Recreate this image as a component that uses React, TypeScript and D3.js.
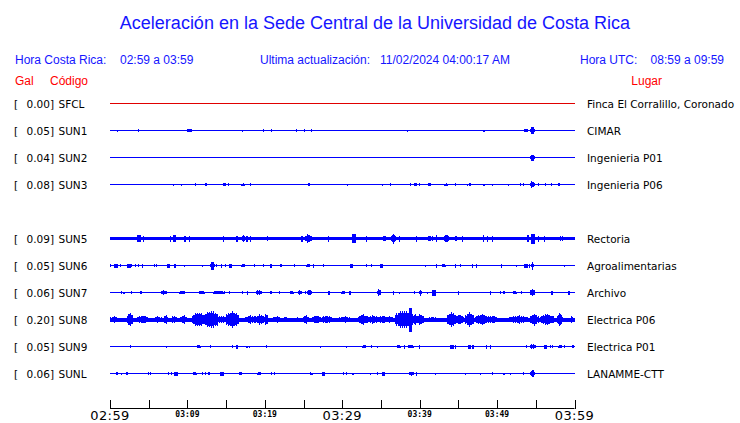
import React from "react";
import * as d3 from "d3";

// ---------- data ----------
const TITLE = "Aceleración en la Sede Central de la Universidad de Costa Rica";
const LOCAL_RANGE = "02:59 a 03:59";
const UPDATED = "11/02/2024 04:00:17 AM";
const UTC_RANGE = "08:59 a 09:59";

// slot: vertical row index (slot 4 is empty)
const codes = ["SFCL", "SUN1", "SUN2", "SUN3", "SUN5", "SUN6", "SUN7", "SUN8", "SUN9", "SUNL"];
const slots = [0, 1, 2, 3, 5, 6, 7, 8, 9, 10];
const gal = [0.0, 0.05, 0.04, 0.08, 0.09, 0.05, 0.06, 0.2, 0.05, 0.06];
const places = [
  "Finca El Corralillo, Coronado",
  "CIMAR",
  "Ingenieria P01",
  "Ingenieria P06",
  "Rectoria",
  "Agroalimentarias",
  "Archivo",
  "Electrica P06",
  "Electrica P01",
  "LANAMME-CTT",
];
// baseline noise half-amplitude per trace
const baseNoise = [0.5, 0.5, 0.5, 0.5, 1.8, 0.5, 0.5, 2.0, 0.5, 0.5];

// events per trace: [startMinute, endMinute, amplitude]
type Ev = [number, number, number];
const evSFCL: Ev[] = [];
const evSUN1: Ev[] = [
  [0.94, 0.94, 1], [3.66, 3.66, 1.5], [10.0, 10.0, 1.5], [10.15, 10.5, 2.5], [17.1, 17.1, 1],
  [19.8, 19.8, 1.5], [20.9, 20.9, 1.5], [24.1, 24.1, 1.5], [25.1, 25.1, 1.5], [26.0, 26.0, 1.5],
  [38.4, 38.4, 1], [48.3, 48.3, 1], [53.6, 53.9, 1.5], [54.4, 54.7, 3.5],
];
const evSUN2: Ev[] = [[54.4, 54.7, 3]];
const evSUN3: Ev[] = [
  [8.2, 8.2, 1], [9.2, 9.2, 1], [11.0, 11.0, 1.5], [12.4, 12.4, 1.5], [14.7, 14.9, 1.5],
  [15.3, 15.3, 1.5], [17.0, 17.4, 1.5], [18.1, 18.1, 1.5], [25.6, 25.8, 1.5], [30.7, 30.7, 1],
  [35.2, 35.2, 1], [36.2, 36.2, 1.5], [38.8, 38.8, 1.5], [39.3, 39.6, 1.5], [40.0, 40.0, 1.5],
  [41.2, 41.4, 1.5], [43.2, 43.6, 1.5], [44.6, 44.6, 1.5], [46.2, 46.2, 1], [46.5, 46.5, 1.5],
  [48.3, 48.3, 1], [49.4, 49.4, 1], [51.5, 51.5, 1], [53.0, 53.0, 1.5], [53.4, 53.4, 1.5],
  [54.3, 54.8, 4], [55.3, 55.3, 1.5], [56.3, 56.3, 1.5], [57.0, 57.0, 1.5], [58.0, 58.0, 1.5],
];
const evSUN5: Ev[] = [
  [3.6, 3.9, 3.5], [4.3, 4.3, 3], [7.8, 7.8, 3], [8.2, 8.5, 3.5], [9.7, 9.7, 3], [10.3, 10.3, 3],
  [14.7, 14.7, 3], [16.4, 16.4, 3], [17.0, 17.5, 3.5], [17.7, 17.7, 3], [18.1, 18.1, 3],
  [20.3, 20.3, 2.2], [24.8, 24.8, 3], [25.1, 26.0, 4.5], [28.2, 28.2, 3], [31.4, 31.7, 4.5],
  [33.1, 33.1, 3], [35.2, 35.7, 3.5], [36.4, 36.9, 5], [37.4, 37.4, 3], [39.6, 39.6, 3],
  [41.0, 41.7, 3.5], [42.2, 42.2, 3.5], [43.2, 43.7, 5], [44.5, 44.9, 3.5], [45.5, 45.5, 3],
  [48.2, 48.2, 3.5], [48.8, 48.8, 3], [49.4, 49.4, 3], [54.0, 54.0, 3.5], [54.5, 54.8, 5],
  [55.4, 55.4, 3], [56.1, 56.1, 3], [57.3, 59.9, 2.3],
];
const evSUN6: Ev[] = [
  [0.05, 0.05, 1.5], [0.6, 0.9, 2], [1.4, 1.4, 1.5], [2.3, 2.6, 2], [2.7, 2.7, 1.5], [3.3, 3.3, 1.5],
  [3.7, 3.7, 1.5], [4.2, 4.2, 2], [5.7, 5.7, 1.5], [6.0, 6.0, 1.5], [7.4, 7.7, 2], [8.4, 8.4, 2],
  [9.6, 9.6, 1], [11.9, 11.9, 1], [13.1, 13.4, 4], [13.8, 13.8, 1.5], [14.4, 14.4, 2],
  [14.9, 14.9, 1.5], [15.4, 15.7, 2], [17.0, 17.4, 2], [18.7, 18.7, 1.5], [19.8, 19.8, 1.5],
  [20.8, 20.8, 2], [22.1, 22.1, 1.5], [23.8, 23.8, 1.5], [25.4, 25.8, 2], [26.3, 26.3, 2],
  [27.6, 27.6, 1.5], [31.1, 31.3, 2], [33.1, 33.1, 1.5], [33.8, 33.8, 1.5], [35.0, 35.2, 2],
  [40.8, 40.8, 1], [42.2, 42.2, 2], [43.0, 43.4, 2], [44.6, 44.6, 2], [45.3, 45.3, 1.5],
  [46.8, 46.8, 2], [47.3, 47.3, 2], [50.6, 50.6, 2], [52.5, 52.5, 1], [53.6, 53.9, 2],
  [54.2, 54.2, 2], [54.6, 54.6, 4], [58.7, 58.7, 1],
];
const evSUN7: Ev[] = [
  [1.5, 1.5, 1.5], [1.8, 1.8, 1], [2.8, 2.8, 1.5], [4.0, 4.0, 1.5], [6.7, 7.4, 3], [9.0, 9.6, 2],
  [11.5, 12.1, 2], [13.4, 14.8, 2], [15.4, 15.4, 1.5], [17.1, 17.1, 1.5], [17.8, 17.8, 2],
  [18.9, 19.6, 3], [20.8, 20.8, 1.5], [21.9, 21.9, 1.5], [23.3, 23.7, 2], [24.3, 24.7, 3],
  [25.3, 25.3, 1.5], [25.5, 26.0, 3], [28.3, 28.3, 2], [29.9, 30.3, 2], [31.0, 31.0, 2],
  [34.6, 35.0, 4], [36.6, 36.6, 2], [37.4, 37.4, 1], [39.3, 39.3, 1.5], [40.1, 40.1, 3],
  [41.0, 41.0, 1], [41.7, 42.0, 3], [45.0, 45.0, 2], [49.1, 49.1, 2], [50.4, 50.4, 1.5],
  [50.9, 50.9, 1.5], [52.1, 52.5, 2], [53.2, 53.2, 1.5], [54.3, 54.8, 4], [57.1, 57.1, 2],
  [59.3, 59.3, 2],
];
const evSUN8: Ev[] = [
  [0.0, 1.0, 3.5], [2.2, 2.8, 8], [3.5, 4.8, 4.5], [5.8, 6.7, 3.5], [7.1, 7.5, 6], [8.0, 8.7, 4.5],
  [9.1, 10.0, 4.5], [10.6, 12.3, 8], [12.3, 13.8, 10], [14.0, 14.9, 4.5], [15.1, 16.6, 9],
  [17.5, 18.8, 4.5], [18.8, 20.0, 5.5], [20.0, 20.4, 7], [20.9, 22.2, 3.5], [22.4, 22.9, 3],
  [23.9, 24.3, 3], [25.0, 25.6, 5], [26.1, 27.2, 4.5], [27.5, 28.7, 4.5], [29.7, 31.0, 3.5],
  [32.1, 33.2, 6], [33.4, 34.5, 4.5], [34.5, 35.8, 4.5], [35.9, 36.6, 4.5], [36.9, 39.1, 10],
  [38.7, 38.9, 12], [39.1, 39.7, 5.5], [39.7, 40.5, 6], [41.1, 42.3, 3], [43.6, 44.6, 8],
  [44.6, 45.6, 5.5], [45.9, 46.9, 8], [47.2, 48.9, 6], [48.9, 50.0, 4.5], [51.5, 53.9, 4.5],
  [54.3, 55.3, 6], [55.6, 57.3, 6], [57.8, 58.4, 7], [59.5, 59.9, 3.5],
];
const evSUN9: Ev[] = [
  [2.6, 2.6, 1.5], [7.3, 7.3, 1], [11.3, 11.7, 2], [13.0, 13.0, 1.5], [15.8, 15.8, 1.5],
  [16.3, 16.5, 2], [17.7, 17.7, 1], [18.0, 18.0, 1], [20.2, 20.2, 1.5], [27.2, 27.2, 1],
  [30.6, 30.6, 1], [32.6, 33.0, 2], [33.8, 33.8, 1.5], [34.6, 34.6, 1], [37.2, 37.6, 2],
  [38.0, 38.0, 2], [38.5, 39.1, 2], [40.0, 40.0, 2], [44.0, 44.3, 2], [44.6, 44.6, 2],
  [46.3, 46.5, 2], [46.9, 46.9, 2], [48.6, 48.6, 2], [49.1, 49.1, 2], [53.8, 53.8, 1.5],
  [54.3, 55.0, 3], [56.1, 56.4, 2], [56.9, 56.9, 1.5], [57.2, 57.2, 1.5], [57.9, 58.3, 2],
  [58.7, 58.7, 1.5], [59.8, 59.8, 1.5],
];
const evSUNL: Ev[] = [
  [0.9, 0.9, 1.5], [1.5, 1.5, 1], [2.2, 2.2, 1.5], [5.0, 5.0, 1.5], [5.2, 5.2, 1.5], [7.6, 7.6, 1.5],
  [7.9, 7.9, 1.5], [8.4, 8.7, 2], [10.8, 11.2, 2], [11.9, 11.9, 1.5], [12.3, 12.3, 1.5],
  [12.8, 12.8, 1.5], [14.3, 14.6, 2], [16.8, 16.8, 1.5], [17.0, 17.0, 1.5], [19.1, 19.5, 2],
  [20.9, 20.9, 1.5], [21.2, 21.2, 1.5], [25.9, 25.9, 1.5], [26.1, 26.1, 1], [27.4, 27.7, 2],
  [30.2, 30.2, 1.5], [30.5, 30.5, 1.5], [31.3, 31.3, 1], [31.5, 31.5, 1], [33.7, 33.7, 1],
  [34.6, 34.6, 1.5], [35.2, 35.5, 2], [38.7, 39.2, 2], [39.6, 39.6, 2], [42.0, 42.0, 1],
  [45.9, 45.9, 1], [47.9, 47.9, 1], [49.4, 49.4, 1.5], [50.9, 50.9, 1], [51.7, 51.7, 1],
  [53.4, 53.4, 1.5], [54.3, 54.8, 4],
];
const events: Ev[][] = [evSFCL, evSUN1, evSUN2, evSUN3, evSUN5, evSUN6, evSUN7, evSUN8, evSUN9, evSUNL];

const tickMinutes = [0, 5, 10, 15, 20, 25, 30, 35, 40, 45, 50, 55, 60];
const majorLabels: [number, string][] = [[0, "02:59"], [30, "03:29"], [60, "03:59"]];
const minorLabels: [number, string][] = [[10, "03:09"], [20, "03:19"], [40, "03:39"], [50, "03:49"]];

// ---------- chart ----------
const W = 740;
const H = 423;
const BLUE = "#0000ff";
const HEAD = "#1515ff";
const RED = "#ff0000";
const TEXTURE = [1, 0.78, 0.92, 0.7, 0.88, 0.74, 0.96, 0.72, 0.85, 0.8];

const x = d3.scaleLinear().domain([0, 60]).range([110, 574.5]);
const y = d3.scaleLinear().domain([0, 10]).range([103.5, 373.5]);
const a = d3.scaleLinear().domain([0, 10]).range([0, 10]);

function renderEvents(evs: Ev[], cy: number, color: string, key: string) {
  const out: React.ReactNode[] = [];
  evs.forEach(([t0, t1, amp], i) => {
    const x0 = x(t0);
    const x1 = x(t1);
    const h = a(amp);
    if (x1 - x0 < 2.5) {
      out.push(
        <rect key={`${key}-${i}`} x={x0 - 0.6} y={cy - h} width={x1 - x0 + 1.2} height={2 * h} fill={color} />
      );
      if (amp >= 3) {
        out.push(
          <rect key={`${key}-${i}-b`} x={x0 - 1.2} y={cy - h * 0.4} width={x1 - x0 + 2.4} height={h * 0.8} fill={color} />
        );
      }
    } else {
      const n = Math.max(1, Math.round(x1 - x0));
      for (let k = 0; k <= n; k++) {
        const u = k / n;
        const env = 0.6 + 0.4 * (1 - Math.abs(2 * u - 1));
        const hh = Math.max(1, h * env * TEXTURE[(k + i) % TEXTURE.length]);
        out.push(
          <rect key={`${key}-${i}-${k}`} x={x0 + k - 0.5} y={cy - hh} width={1} height={2 * hh} fill={color} />
        );
      }
    }
  });
  return out;
}

export default function App() {
  const labelFont = "'DejaVu Sans', sans-serif";
  const headFont = "'Liberation Sans', Arial, sans-serif";
  return (
    <svg
      width={W}
      height={H}
      viewBox={`0 0 ${W} ${H}`}
      style={{ position: "absolute", left: 0, top: 0, background: "#fff" }}
    >
      <rect x={0} y={0} width={W} height={H} fill="#fff" />
      <text x={375} y={29} textAnchor="middle" fontFamily={headFont} fontSize={18} fill={HEAD}>
        {TITLE}
      </text>
      <g fontFamily={headFont} fontSize={12} fill={HEAD}>
        <text x={15} y={64}>Hora Costa Rica:</text>
        <text x={120} y={64}>{LOCAL_RANGE}</text>
        <text x={260} y={64}>Ultima actualización:</text>
        <text x={380} y={64}>{UPDATED}</text>
        <text x={580} y={64}>Hora UTC:</text>
        <text x={724} y={64} textAnchor="end">{UTC_RANGE}</text>
      </g>
      <g fontFamily={headFont} fontSize={12} fill={RED}>
        <text x={15} y={85}>Gal</text>
        <text x={50} y={85}>Código</text>
        <text x={662} y={85} textAnchor="end">Lugar</text>
      </g>

      {codes.map((c, i) => {
        const cy = y(slots[i]);
        const color = i === 0 ? "#e00000" : BLUE;
        const bn = a(baseNoise[i]);
        return (
          <g key={c}>
            <text x={14} y={cy + 4} fontFamily={labelFont} fontSize={10.5} fill="#000">[</text>
            <text x={54} y={cy + 4} textAnchor="end" fontFamily={labelFont} fontSize={10.5} fill="#000">
              {d3.format(".2f")(gal[i])}]
            </text>
            <text x={58.5} y={cy + 4} fontFamily={labelFont} fontSize={10.5} fill="#000">{c}</text>
            <g shapeRendering="crispEdges">
              <rect x={x(0)} y={cy - bn} width={x(60) - x(0)} height={2 * bn} fill={color} />
              {renderEvents(events[i], cy, color, c)}
            </g>
            <text x={587} y={cy + 4} fontFamily={labelFont} fontSize={10.5} fill="#000">{places[i]}</text>
          </g>
        );
      })}

      <g>
        <line x1={x(0)} x2={x(60)} y1={408.5} y2={408.5} stroke="#000" strokeWidth={1} />
        {tickMinutes.map((t) => (
          <line key={t} x1={Math.round(x(t)) + 0.5} x2={Math.round(x(t)) + 0.5} y1={400} y2={409} stroke="#000" />
        ))}
        {majorLabels.map(([t, s]) => (
          <text key={s} x={x(t)} y={420} textAnchor="middle" fontFamily={labelFont} fontSize={13} letterSpacing={0.4} fill="#000">
            {s}
          </text>
        ))}
        {minorLabels.map(([t, s]) => (
          <text
            key={s}
            x={x(t)}
            y={417}
            textAnchor="middle"
            fontFamily="'DejaVu Sans Mono', monospace"
            fontWeight="bold"
            fontSize={8}
            fill="#000"
          >
            {s}
          </text>
        ))}
      </g>
    </svg>
  );
}
